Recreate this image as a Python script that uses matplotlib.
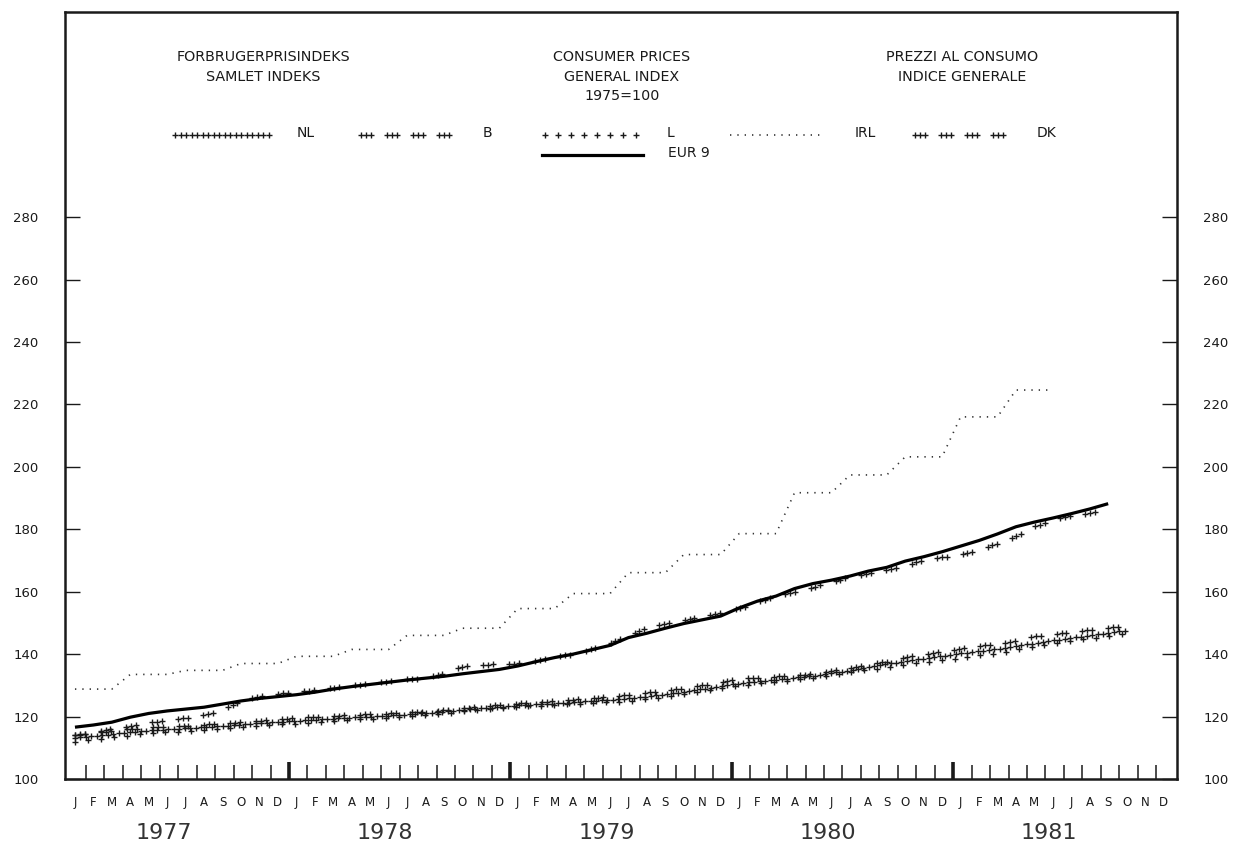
import numpy as np
import matplotlib
matplotlib.use("Agg")
import matplotlib.pyplot as plt

# monthly values, Jan 1977 = index 0  (1975=100)
eur9 = [116.6, 117.3, 118.2, 119.8, 121.0, 121.8, 122.4, 123.0, 124.0, 125.0, 125.8, 126.4,
        127.0, 127.8, 128.8, 129.6, 130.3, 131.0, 131.7, 132.3, 132.9, 133.7, 134.4, 135.1,
        136.2, 137.6, 138.9, 140.0, 141.4, 142.8, 145.3, 146.7, 148.3, 149.8, 151.0, 152.2,
        154.8, 157.0, 158.6, 161.0, 162.6, 163.7, 165.0, 166.6, 167.8, 169.8, 171.2, 172.8,
        174.6, 176.4, 178.5, 180.8, 182.3, 183.6, 185.0, 186.5, 188.2]
dk = [114.0, 115.0, 116.0, 116.9, 118.0, 118.9, 119.6, 120.4, 122.2, 125.0, 126.6, 127.3,
      127.8, 128.4, 129.2, 129.9, 130.6, 131.3, 131.9, 132.4, 133.8, 136.0, 136.6, 136.8,
      137.0, 137.8, 139.0, 140.0, 141.6, 143.5, 146.0, 148.5, 149.8, 151.0, 152.2, 153.2,
      154.6, 156.6, 158.6, 159.8, 161.4, 163.0, 164.8, 166.0, 167.0, 168.5, 170.0, 171.0,
      171.8, 173.4, 175.5, 177.8, 180.8, 183.0, 184.2, 185.2, 186.3]
irl = [128.8, 128.8, 128.8, 133.5, 133.5, 133.5, 134.8, 134.8, 134.8, 137.0, 137.0, 137.0,
       139.3, 139.3, 139.3, 141.5, 141.5, 141.5, 146.0, 146.0, 146.0, 148.3, 148.3, 148.3,
       154.6, 154.6, 154.6, 159.4, 159.4, 159.4, 166.1, 166.1, 166.1, 171.9, 171.9, 171.9,
       178.6, 178.6, 178.6, 191.7, 191.7, 191.7, 197.4, 197.4, 197.4, 203.2, 203.2, 203.2,
       216.0, 216.0, 216.0, 224.6, 224.6, 224.6]
b = [114.0, 114.6, 115.4, 116.0, 116.5, 116.8, 117.0, 117.4, 117.8, 118.2, 118.6, 119.0,
     119.5, 119.9, 120.2, 120.5, 120.8, 121.0, 121.2, 121.6, 122.0, 122.6, 123.2, 123.7,
     124.2, 124.6, 125.0, 125.4, 125.8, 126.4, 127.0, 127.6, 128.3, 129.0, 130.0, 130.8,
     132.0, 132.4, 132.8, 133.2, 133.6, 134.6, 135.6, 136.6, 137.6, 139.0, 139.8, 140.8,
     141.8, 142.6, 143.2, 144.4, 145.6, 146.4, 147.0, 147.8, 148.4, 149.0]
nl = [113.2, 113.7, 114.4, 115.0, 115.5, 115.9, 116.2, 116.6, 117.0, 117.4, 117.9, 118.3,
      118.6, 119.0, 119.3, 119.7, 120.0, 120.3, 120.7, 121.1, 121.6, 122.1, 122.6, 123.1,
      123.6, 123.9, 124.2, 124.6, 125.0, 125.4, 125.8, 126.4, 127.1, 127.9, 128.8, 129.7,
      130.6, 131.2, 131.8, 132.4, 133.0, 133.9, 134.8, 135.8, 136.8, 137.8, 138.6, 139.4,
      140.2, 141.0, 141.6, 142.6, 143.5, 144.4, 145.2, 146.0, 146.8, 147.6]
lux = [112.0, 112.6, 113.4, 114.0, 114.6, 115.0, 115.3, 115.7, 116.2, 116.6, 117.0, 117.4,
       117.8, 118.2, 118.5, 118.9, 119.3, 119.6, 120.0, 120.5, 121.0, 121.6, 122.2, 122.7,
       123.2, 123.4, 123.7, 124.0, 124.3, 124.6, 124.9, 125.6, 126.4, 127.2, 128.1, 129.0,
       129.8, 130.5, 131.1, 131.7, 132.3, 133.2, 134.2, 135.0, 135.8, 136.7, 137.4, 138.1,
       138.8, 139.6, 140.3, 141.4, 142.6, 143.4, 144.2, 145.0, 145.8, 146.6]

months = ["J", "F", "M", "A", "M", "J", "J", "A", "S", "O", "N", "D"] * 5
years = ["1977", "1978", "1979", "1980", "1981"]
yticks = [100, 120, 140, 160, 180, 200, 220, 240, 260, 280]

ink = "#1a1a1a"


def marks_along(x, y, tr, offsets, period):
    # positions of '+' marks spaced along the drawn line (pixel spacing)
    pts = tr.transform(np.column_stack([x, y]))
    seg = np.hypot(np.diff(pts[:, 0]), np.diff(pts[:, 1]))
    d = np.concatenate([[0], np.cumsum(seg)])
    s = np.sort(np.concatenate([np.arange(o, d[-1] + 0.01, period) for o in offsets]))
    p = np.column_stack([np.interp(s, d, pts[:, 0]), np.interp(s, d, pts[:, 1])])
    return tr.inverted().transform(p)


fig = plt.figure(figsize=(12.39, 8.61), dpi=100)
ax = fig.add_axes([65 / 1239, 82 / 861, 1112 / 1239, 767 / 861])
ax.set_xlim(-0.54, 59.73)
ax.set_ylim(100, 345.7)
for s in ax.spines.values():
    s.set_linewidth(1.8)
    s.set_color(ink)

styles = {
    "NL": ([0], 5.5),
    "B": ([0, 5, 10], 26),
    "L": ([0], 13),
    "DK": ([0, 5, 10], 26),
}
series = {"NL": nl, "B": b, "L": lux, "DK": dk}

for name, vals in series.items():
    offs, per = styles[name]
    m = marks_along(np.arange(len(vals)), vals, ax.transData, offs, per)
    ax.plot(m[:, 0], m[:, 1], ls="none", marker="+", ms=5, mew=1.0, color=ink)

ax.plot(np.arange(len(irl)), irl, color="#333333", lw=1.2, dashes=(0.8, 3.6))
ax.plot(np.arange(len(eur9)), eur9, color="black", lw=2.3, solid_capstyle="butt")

# axis ticks
ax.set_yticks(yticks)
ax.tick_params(axis="y", which="both", direction="in", length=11, width=1.0,
               left=True, right=True, labelleft=True, labelright=True,
               labelsize=9.5, pad=19, colors=ink)
dec = [m + 0.6 for m in range(59) if m % 12 == 11]
other = [m + 0.6 for m in range(59) if m % 12 != 11]
ax.set_xticks(dec)
ax.set_xticks(other, minor=True)
ax.tick_params(axis="x", which="major", direction="in", length=12.5, width=2.6,
               labelbottom=False, color=ink)
ax.tick_params(axis="x", which="minor", direction="in", length=10, width=1.1,
               labelbottom=False, color=ink)

xt = ax.get_xaxis_transform()
for i, lab in enumerate(months):
    ax.text(i, -0.031, lab, transform=xt, ha="center", va="center",
            fontsize=8.5, color=ink)
for k, yr in enumerate(years):
    ax.text(12 * k + 4.8, -0.071, yr, transform=xt, ha="center", va="center",
            fontsize=16, color="#333333")


# titles and legend (positions in figure pixels)
def fx(px):
    return (px - 65) / 1112


def fy(py):
    return (779 - py) / 767


ta = ax.transAxes
titles = [
    (263, 57, "FORBRUGERPRISINDEKS"), (263, 77, "SAMLET INDEKS"),
    (622, 57, "CONSUMER PRICES"), (622, 77, "GENERAL INDEX"), (622, 96, "1975=100"),
    (962, 57, "PREZZI AL CONSUMO"), (962, 77, "INDICE GENERALE"),
]
for px, py, t in titles:
    ax.text(fx(px), fy(py), t, transform=ta, ha="center", va="center",
            fontsize=10.3, color=ink)

leg = [("NL", 175, 272, 297), ("B", 361, 450, 483), ("L", 545, 637, 667),
       ("IRL", 730, 825, 855), ("DK", 915, 1004, 1037)]
for name, x0, x1, lx in leg:
    xs = [fx(x0), fx(x1)]
    ys = [fy(135), fy(135)]
    if name == "IRL":
        ax.plot(xs, ys, transform=ta, color="#333333", lw=1.2, dashes=(0.8, 3.6))
    else:
        offs, per = styles[name]
        m = marks_along(xs, ys, ta, offs, per)
        ax.plot(m[:, 0], m[:, 1], transform=ta, ls="none", marker="+", ms=5,
                mew=1.0, color=ink)
    ax.text(fx(lx), fy(133), name, transform=ta, ha="left", va="center",
            fontsize=10, color=ink)
ax.plot([fx(542), fx(643)], [fy(155), fy(155)], transform=ta, color="black", lw=2.3)
ax.text(fx(668), fy(153), "EUR 9", transform=ta, ha="left", va="center",
        fontsize=10, color=ink)

fig.savefig("out.png", dpi=100)
